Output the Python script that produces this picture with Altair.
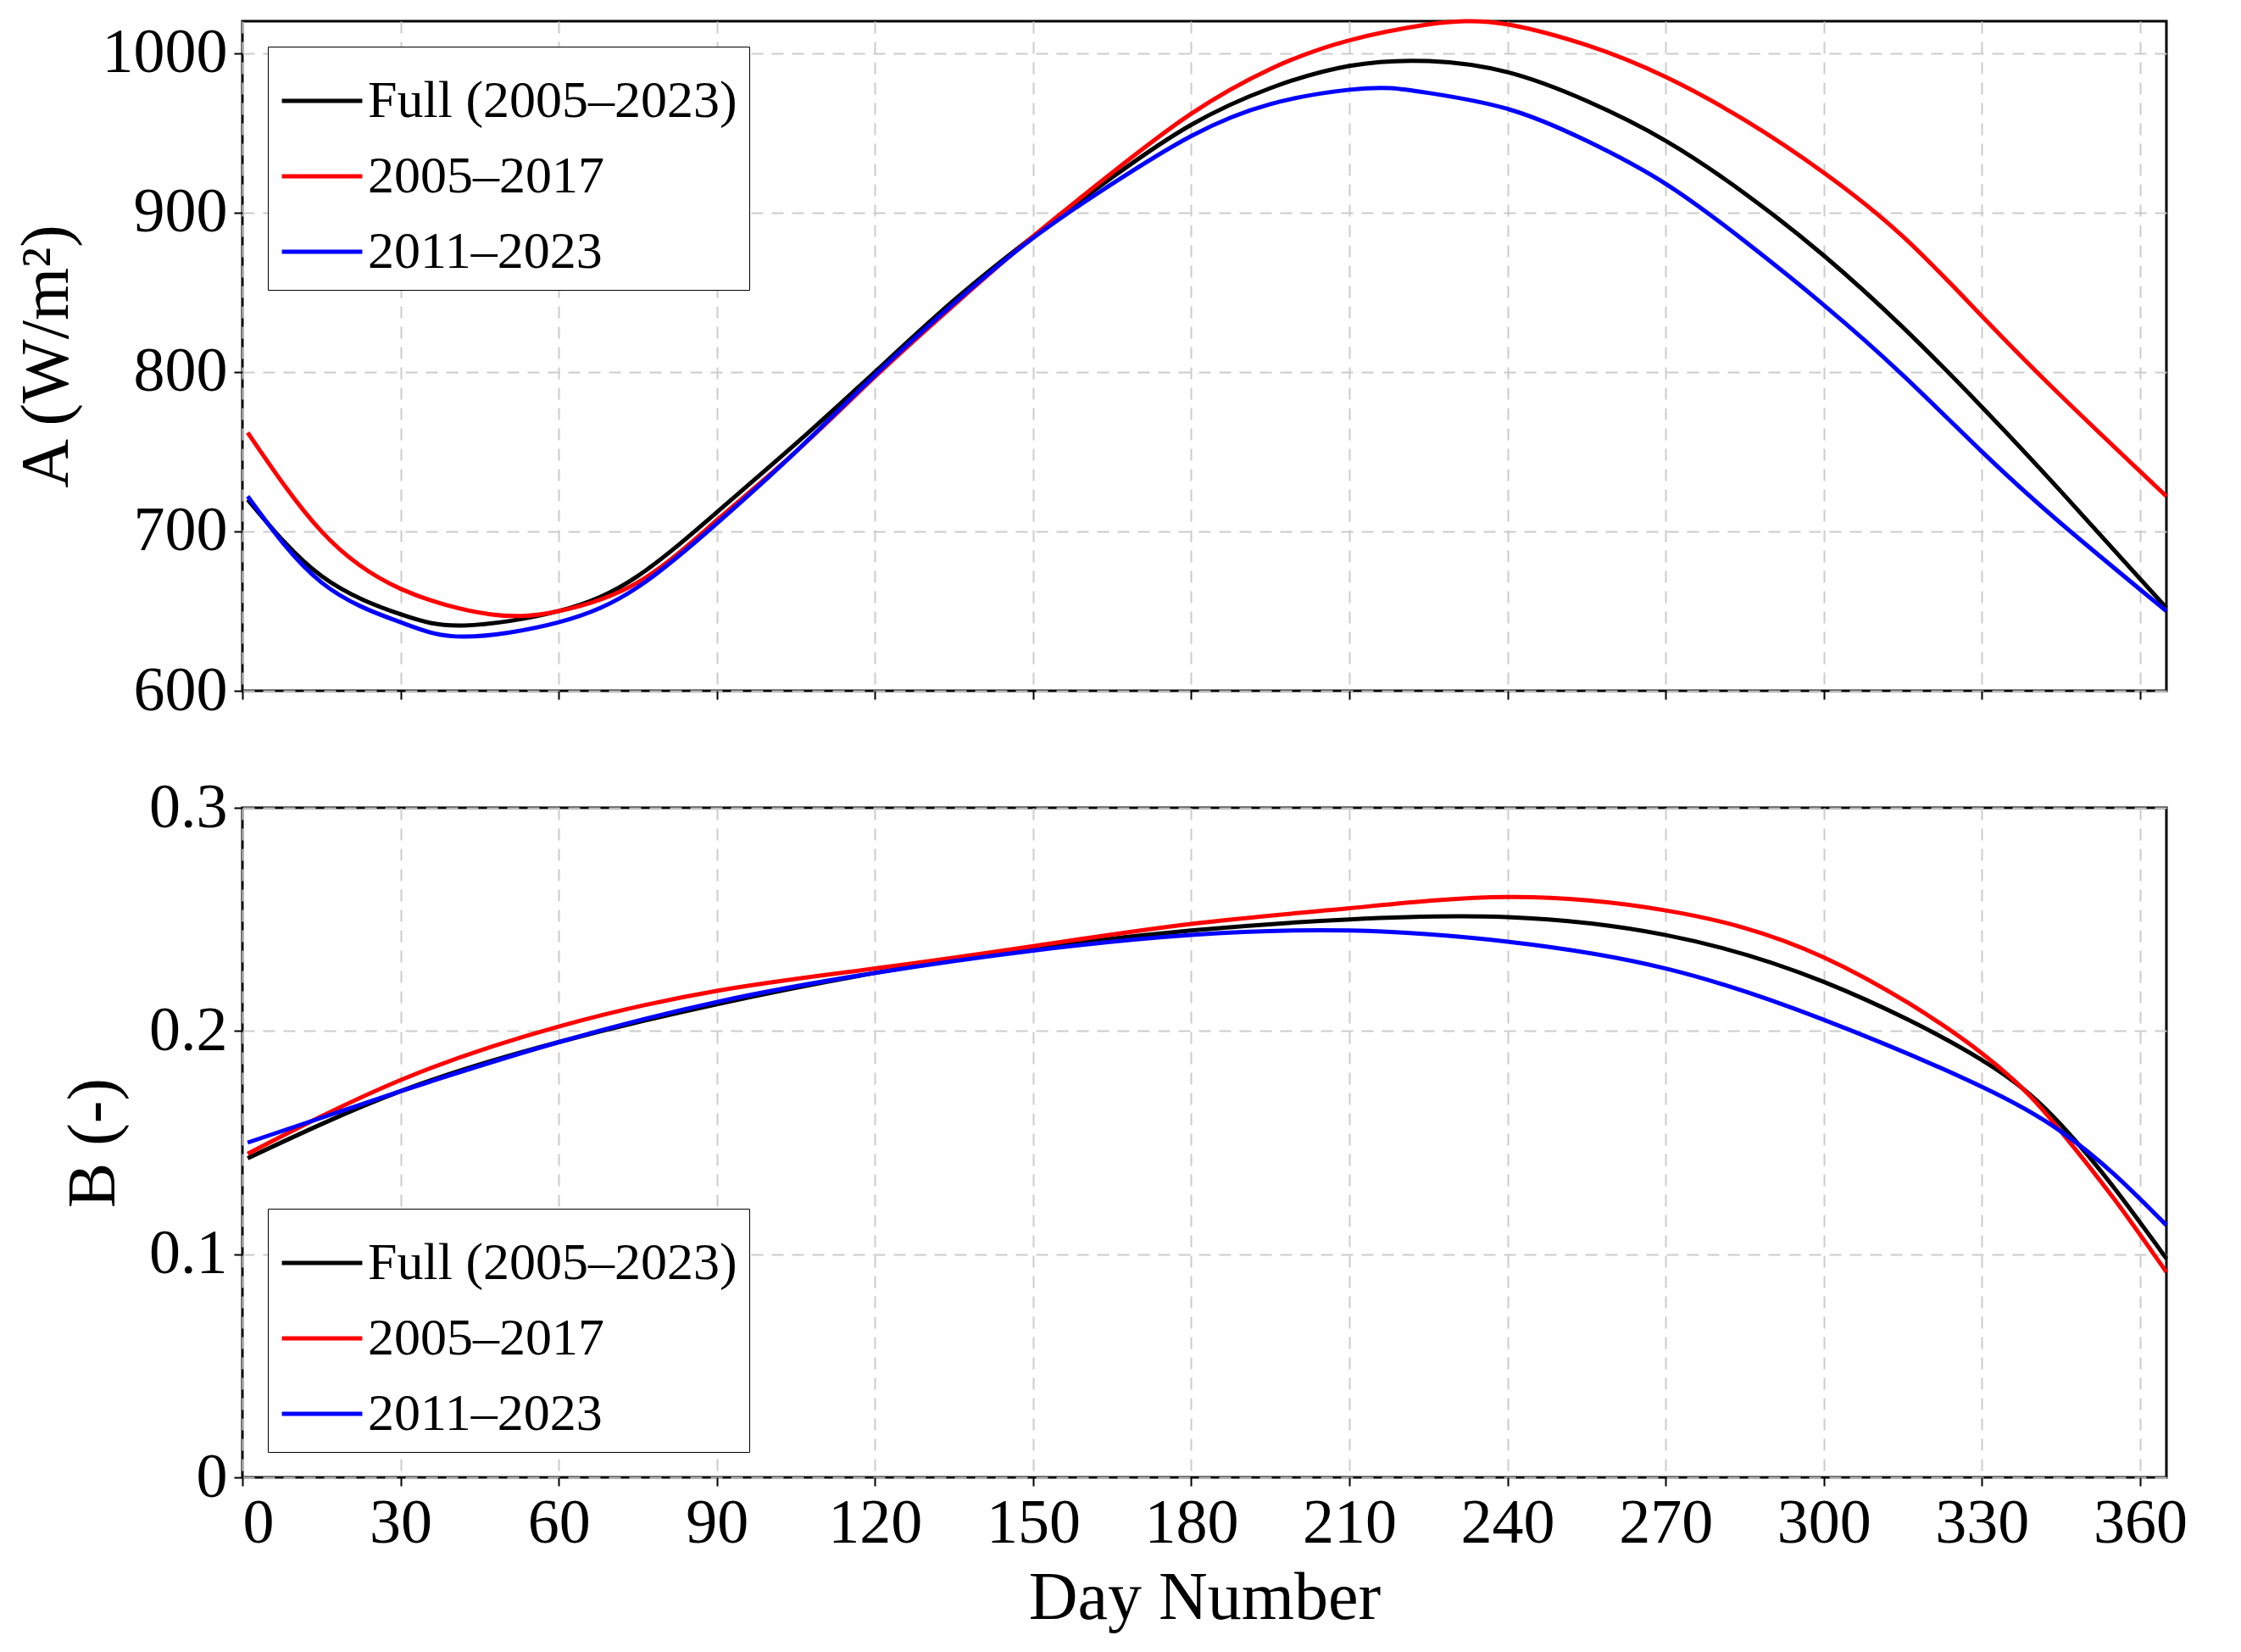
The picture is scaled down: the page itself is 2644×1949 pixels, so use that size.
import altair as alt
import pandas as pd

series = ["Full (2005\u20132023)", "2005\u20132017", "2011\u20132023"]
colors = ["black", "#ff0000", "#0000ff"]

# A (W/m2)
a_days_full = [1, 15, 30, 42, 60, 75, 90, 105, 120, 135, 150, 165, 180, 195, 210, 225, 240, 255, 270, 285, 300, 315, 330, 345, 365]
a_full = [720, 672, 648, 641, 650, 672, 712, 755, 800, 845, 885, 922, 955, 978, 992, 995, 988, 970, 945, 912, 873, 828, 778, 725, 652]
a_days_red = [1, 15, 30, 47, 60, 75, 90, 105, 120, 135, 150, 165, 180, 195, 210, 225, 232, 240, 255, 270, 285, 300, 315, 330, 345, 365]
a_red = [762, 700, 664, 648, 650, 668, 707, 750, 797, 842, 885, 925, 962, 990, 1008, 1018, 1020, 1018, 1005, 985, 958, 925, 885, 835, 785, 722]
a_days_blue = [1, 15, 30, 42, 60, 75, 90, 105, 120, 135, 150, 165, 180, 195, 210, 218, 225, 240, 255, 270, 285, 300, 315, 330, 345, 365]
a_blue = [722, 668, 643, 634, 643, 665, 705, 750, 798, 843, 884, 918, 948, 968, 977, 978, 975, 965, 945, 918, 882, 842, 798, 750, 705, 650]

# B (-)
b_days = [1, 30, 60, 90, 120, 150, 180, 210, 240, 270, 300, 330, 345, 355, 365]
b_full = [0.143, 0.173, 0.195, 0.212, 0.226, 0.237, 0.245, 0.250, 0.251, 0.243, 0.222, 0.187, 0.158, 0.130, 0.098]
b_red = [0.145, 0.178, 0.202, 0.218, 0.228, 0.238, 0.248, 0.255, 0.260, 0.254, 0.233, 0.190, 0.155, 0.125, 0.092]
b_blue = [0.150, 0.173, 0.195, 0.213, 0.226, 0.236, 0.243, 0.245, 0.240, 0.228, 0.205, 0.175, 0.155, 0.136, 0.113]


def frame(pairs):
    rows = []
    for name, days, vals in pairs:
        for d, v in zip(days, vals):
            rows.append({"day": d, "value": v, "series": name})
    return pd.DataFrame(rows)


dfa = frame([(series[0], a_days_full, a_full), (series[1], a_days_red, a_red), (series[2], a_days_blue, a_blue)])
dfb = frame([(series[0], b_days, b_full), (series[1], b_days, b_red), (series[2], b_days, b_blue)])

FONT = "Liberation Serif"
W, H = 2270, 790


def legend(orient):
    return alt.Legend(title=None, orient=orient, symbolType="stroke", symbolStrokeWidth=5,
                      symbolSize=9000, labelFontSize=62, labelFont=FONT, strokeColor="black",
                      fillColor="white", padding=14, rowPadding=8, offset=30, labelLimit=900)


def panel(df, yfield_title, ydom, yticks, yfmt, show_x, orient):
    xaxis = alt.Axis(values=list(range(0, 361, 30)), labels=show_x,
                     title="Day Number" if show_x else None, grid=True, gridDash=[14, 10],
                     gridColor="#cccccc", gridWidth=2, tickSize=10, tickWidth=2,
                     labelFontSize=74, titleFontSize=80, labelPadding=8, titlePadding=12,
                     domain=False)
    yaxis = alt.Axis(values=yticks, format=yfmt, title=yfield_title, grid=True, gridDash=[14, 10],
                     gridColor="#cccccc", gridWidth=2, tickSize=10, tickWidth=2,
                     labelFontSize=74, titleFontSize=80, labelPadding=8, titlePadding=24,
                     domain=False)
    return alt.Chart(df).mark_line(strokeWidth=5, interpolate="natural").encode(
        x=alt.X("day:Q", scale=alt.Scale(domain=[0, 365], nice=False), axis=xaxis),
        y=alt.Y("value:Q", scale=alt.Scale(domain=ydom, nice=False), axis=yaxis),
        color=alt.Color("series:N", scale=alt.Scale(domain=series, range=colors),
                        sort=series, legend=legend(orient)),
        detail="series:N",
    ).properties(width=W, height=H)


top = panel(dfa, "A (W/m\u00b2)", [600, 1020], [600, 700, 800, 900, 1000], "d", False, "top-left")
bottom = panel(dfb, "B (-)", [0, 0.3], [0, 0.1, 0.2, 0.3], ".1~f", True, "bottom-left")

chart = alt.vconcat(top, bottom, spacing=60).resolve_scale(color="independent").configure(
    font=FONT
).configure_view(stroke="black", strokeWidth=3).configure_axis(
    labelColor="black", titleColor="black", tickColor="black", labelFontWeight="normal",
    titleFontWeight="normal"
).properties(background="white")

chart.save("out.html", embed_options={"renderer": "svg", "actions": False})
